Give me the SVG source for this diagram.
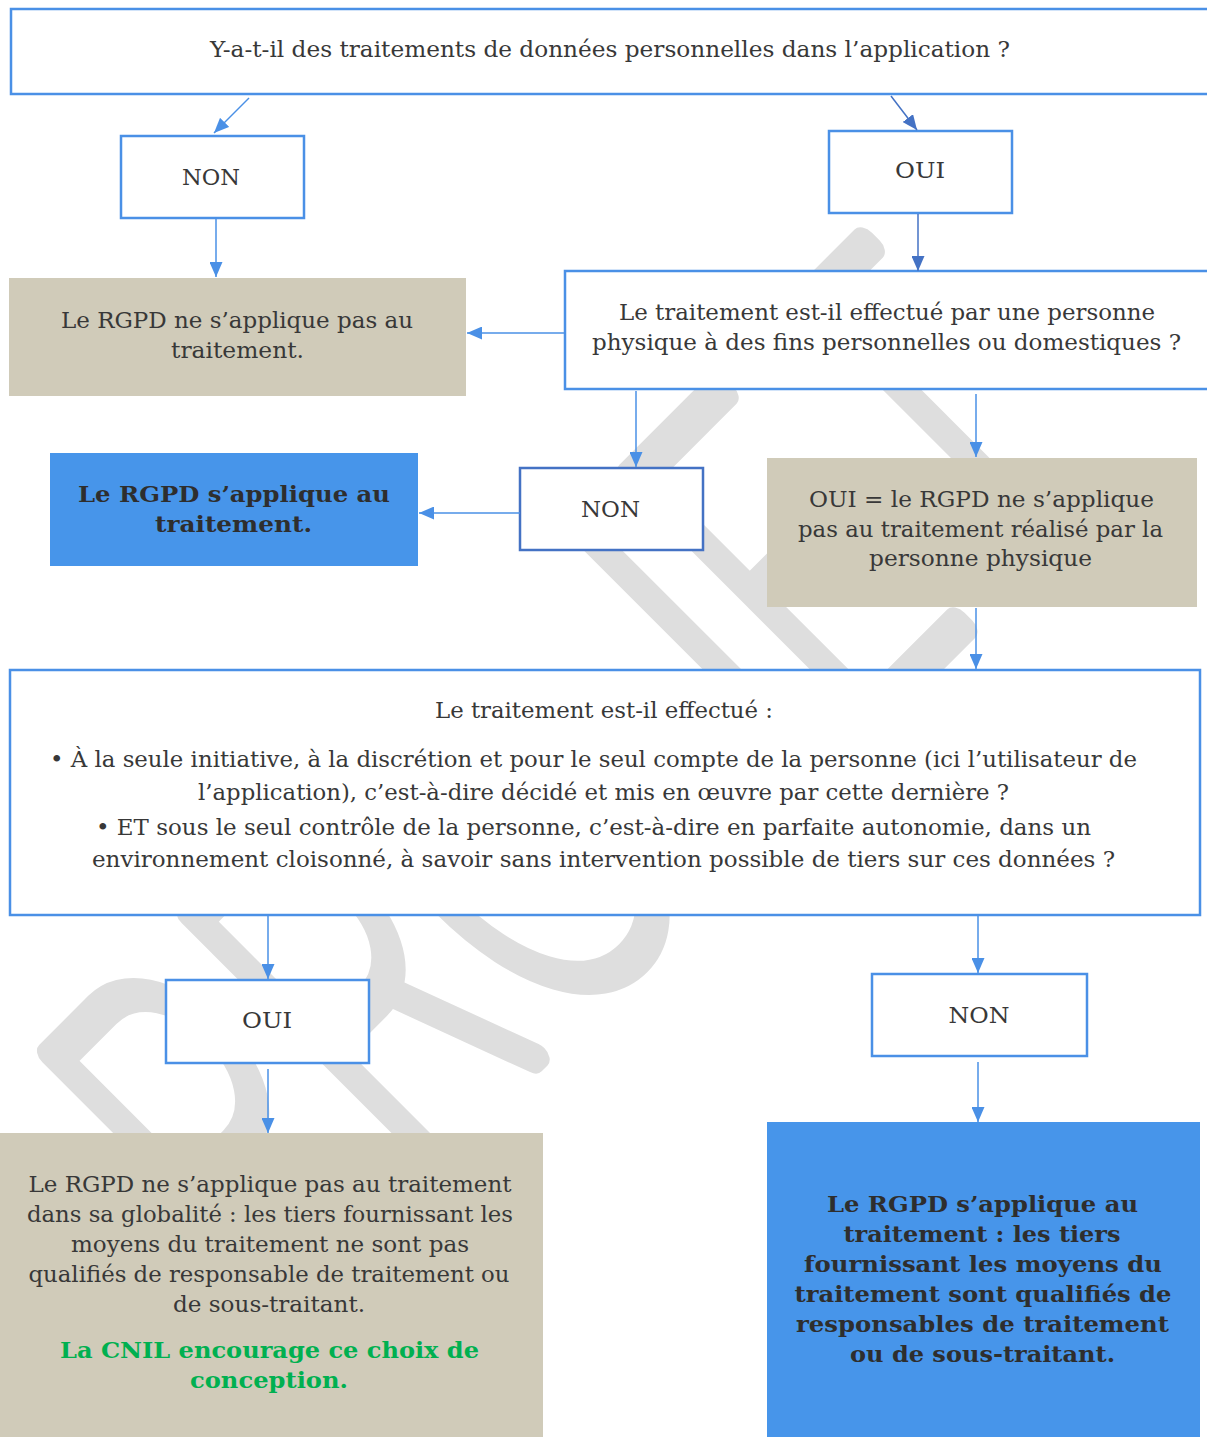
<svg xmlns="http://www.w3.org/2000/svg" width="1207" height="1437" viewBox="0 0 1207 1437">
<defs>
<style>
.wbox{fill:#ffffff;stroke:#4a90e6;stroke-width:2.5}
.wboxd{fill:#ffffff;stroke:#4472c4;stroke-width:2.5}
.beige{fill:#d0cbb9}
.blue{fill:#4795ea}
.t{font-family:"DejaVu Serif","Liberation Serif",serif;font-size:23px;fill:#383838;text-anchor:middle}
.b{font-family:"DejaVu Serif","Liberation Serif",serif;font-size:23px;font-weight:bold;fill:#2e2e2e;text-anchor:middle}
.g{fill:#00b050}
.c{fill:none;stroke:#4a90e6;stroke-width:1.5}
.cd{fill:none;stroke:#4472c4;stroke-width:1.5}
.wm{font-family:Inter,"Liberation Sans",sans-serif;font-weight:100;font-size:474px;fill:#dedede;stroke:#dedede;stroke-width:25;stroke-linejoin:round;stroke-linecap:round;vector-effect:non-scaling-stroke}
</style>
<marker id="ah" markerUnits="userSpaceOnUse" markerWidth="15" markerHeight="13" refX="15" refY="6.5" viewBox="0 0 15 13" orient="auto"><path d="M0,0 L15,6.5 L0,13 z" fill="#4a90e6"/></marker>
<marker id="ahd" markerUnits="userSpaceOnUse" markerWidth="15" markerHeight="13" refX="15" refY="6.5" viewBox="0 0 15 13" orient="auto"><path d="M0,0 L15,6.5 L0,13 z" fill="#4472c4"/></marker>
</defs>
<rect x="0" y="0" width="1207" height="1437" fill="#ffffff"/>
<g id="watermark">
<text class="wm" transform="rotate(-45) translate(-748,1126) scale(0.685,1)" x="0" y="0">PROJET</text>
</g>
<g id="q1">
<rect class="wbox" x="11" y="9" width="1210" height="85"/>
<text class="t" x="610" y="57" textLength="800" lengthAdjust="spacingAndGlyphs">Y-a-t-il des traitements de données personnelles dans l’application ?</text>
</g>
<g id="non1">
<rect class="wbox" x="121" y="136" width="183" height="82"/>
<text class="t" x="211" y="185" textLength="58" lengthAdjust="spacingAndGlyphs">NON</text>
</g>
<g id="oui1">
<rect class="wbox" x="829" y="131" width="183" height="82"/>
<text class="t" x="920" y="178" textLength="50" lengthAdjust="spacingAndGlyphs">OUI</text>
</g>
<g id="res1">
<rect class="beige" x="9" y="278" width="457" height="118"/>
<text class="t" x="237" y="328" textLength="352" lengthAdjust="spacingAndGlyphs">Le RGPD ne s’applique pas au</text>
<text class="t" x="237.5" y="358" textLength="133" lengthAdjust="spacingAndGlyphs">traitement.</text>
</g>
<g id="q2">
<rect class="wbox" x="565" y="271" width="660" height="118"/>
<text class="t" x="887" y="320" textLength="536" lengthAdjust="spacingAndGlyphs">Le traitement est-il effectué par une personne</text>
<text class="t" x="886.5" y="350" textLength="589" lengthAdjust="spacingAndGlyphs">physique à des fins personnelles ou domestiques ?</text>
</g>
<g id="res2">
<rect class="blue" x="50" y="453" width="368" height="113"/>
<text class="b" x="234" y="502" textLength="312" lengthAdjust="spacingAndGlyphs">Le RGPD s’applique au</text>
<text class="b" x="233.5" y="532" textLength="157" lengthAdjust="spacingAndGlyphs">traitement.</text>
</g>
<g id="non2">
<rect class="wboxd" x="520" y="468" width="183" height="82"/>
<text class="t" x="610.5" y="517" textLength="59" lengthAdjust="spacingAndGlyphs">NON</text>
</g>
<g id="res3">
<rect class="beige" x="767" y="458" width="430" height="149"/>
<text class="t" x="981.5" y="507" textLength="345" lengthAdjust="spacingAndGlyphs">OUI = le RGPD ne s’applique</text>
<text class="t" x="980.5" y="537" textLength="365" lengthAdjust="spacingAndGlyphs">pas au traitement réalisé par la</text>
<text class="t" x="980.5" y="566" textLength="223" lengthAdjust="spacingAndGlyphs">personne physique</text>
</g>
<g id="q3">
<rect class="wbox" x="10" y="670" width="1190" height="245"/>
<text class="t" x="604" y="718" textLength="338" lengthAdjust="spacingAndGlyphs">Le traitement est-il effectué :</text>
<text class="t" x="593.5" y="767" textLength="1087" lengthAdjust="spacingAndGlyphs">• À la seule initiative, à la discrétion et pour le seul compte de la personne (ici l’utilisateur de</text>
<text class="t" x="603.5" y="800" textLength="811" lengthAdjust="spacingAndGlyphs">l’application), c’est-à-dire décidé et mis en œuvre par cette dernière ?</text>
<text class="t" x="593.5" y="835" textLength="995" lengthAdjust="spacingAndGlyphs">• ET sous le seul contrôle de la personne, c’est-à-dire en parfaite autonomie, dans un</text>
<text class="t" x="603.5" y="867" textLength="1023" lengthAdjust="spacingAndGlyphs">environnement cloisonné, à savoir sans intervention possible de tiers sur ces données ?</text>
</g>
<g id="oui3">
<rect class="wbox" x="166" y="980" width="203" height="83"/>
<text class="t" x="267" y="1028" textLength="50" lengthAdjust="spacingAndGlyphs">OUI</text>
</g>
<g id="non3">
<rect class="wbox" x="872" y="974" width="215" height="82"/>
<text class="t" x="979" y="1023" textLength="61" lengthAdjust="spacingAndGlyphs">NON</text>
</g>
<g id="res4">
<rect class="beige" x="0" y="1133" width="543" height="304"/>
<text class="t" x="270" y="1192" textLength="483" lengthAdjust="spacingAndGlyphs">Le RGPD ne s’applique pas au traitement</text>
<text class="t" x="270" y="1222" textLength="486" lengthAdjust="spacingAndGlyphs">dans sa globalité : les tiers fournissant les</text>
<text class="t" x="270" y="1252" textLength="398" lengthAdjust="spacingAndGlyphs">moyens du traitement ne sont pas</text>
<text class="t" x="269" y="1282" textLength="481" lengthAdjust="spacingAndGlyphs">qualifiés de responsable de traitement ou</text>
<text class="t" x="269" y="1312" textLength="192" lengthAdjust="spacingAndGlyphs">de sous-traitant.</text>
<text class="b g" x="269.5" y="1358" textLength="419" lengthAdjust="spacingAndGlyphs">La CNIL encourage ce choix de</text>
<text class="b g" x="269" y="1388" textLength="158" lengthAdjust="spacingAndGlyphs">conception.</text>
</g>
<g id="res5">
<rect class="blue" x="767" y="1122" width="433" height="315"/>
<text class="b" x="982.5" y="1212" textLength="311" lengthAdjust="spacingAndGlyphs">Le RGPD s’applique au</text>
<text class="b" x="982" y="1242" textLength="277" lengthAdjust="spacingAndGlyphs">traitement : les tiers</text>
<text class="b" x="983" y="1272" textLength="358" lengthAdjust="spacingAndGlyphs">fournissant les moyens du</text>
<text class="b" x="983" y="1302" textLength="377" lengthAdjust="spacingAndGlyphs">traitement sont qualifiés de</text>
<text class="b" x="982.5" y="1332" textLength="373" lengthAdjust="spacingAndGlyphs">responsables de traitement</text>
<text class="b" x="982.5" y="1362" textLength="265" lengthAdjust="spacingAndGlyphs">ou de sous-traitant.</text>
</g>
<g id="connectors">
<path class="c" d="M249,98 L214,133" marker-end="url(#ah)"/>
<path class="cd" d="M891,96 L917,130" marker-end="url(#ahd)"/>
<path class="c" d="M216,219 L216,277" marker-end="url(#ah)"/>
<path class="cd" d="M918,214 L918,271" marker-end="url(#ahd)"/>
<path class="c" d="M565,333 L467,333" marker-end="url(#ah)"/>
<path class="c" d="M636,391 L636,467" marker-end="url(#ah)"/>
<path class="c" d="M976,394 L976,457" marker-end="url(#ah)"/>
<path class="c" d="M520,513 L419,513" marker-end="url(#ah)"/>
<path class="c" d="M976,608 L976,669" marker-end="url(#ah)"/>
<path class="c" d="M268,916 L268,979" marker-end="url(#ah)"/>
<path class="c" d="M978,916 L978,973" marker-end="url(#ah)"/>
<path class="c" d="M268,1069 L268,1133" marker-end="url(#ah)"/>
<path class="c" d="M978,1062 L978,1122" marker-end="url(#ah)"/>
</g>
</svg>
